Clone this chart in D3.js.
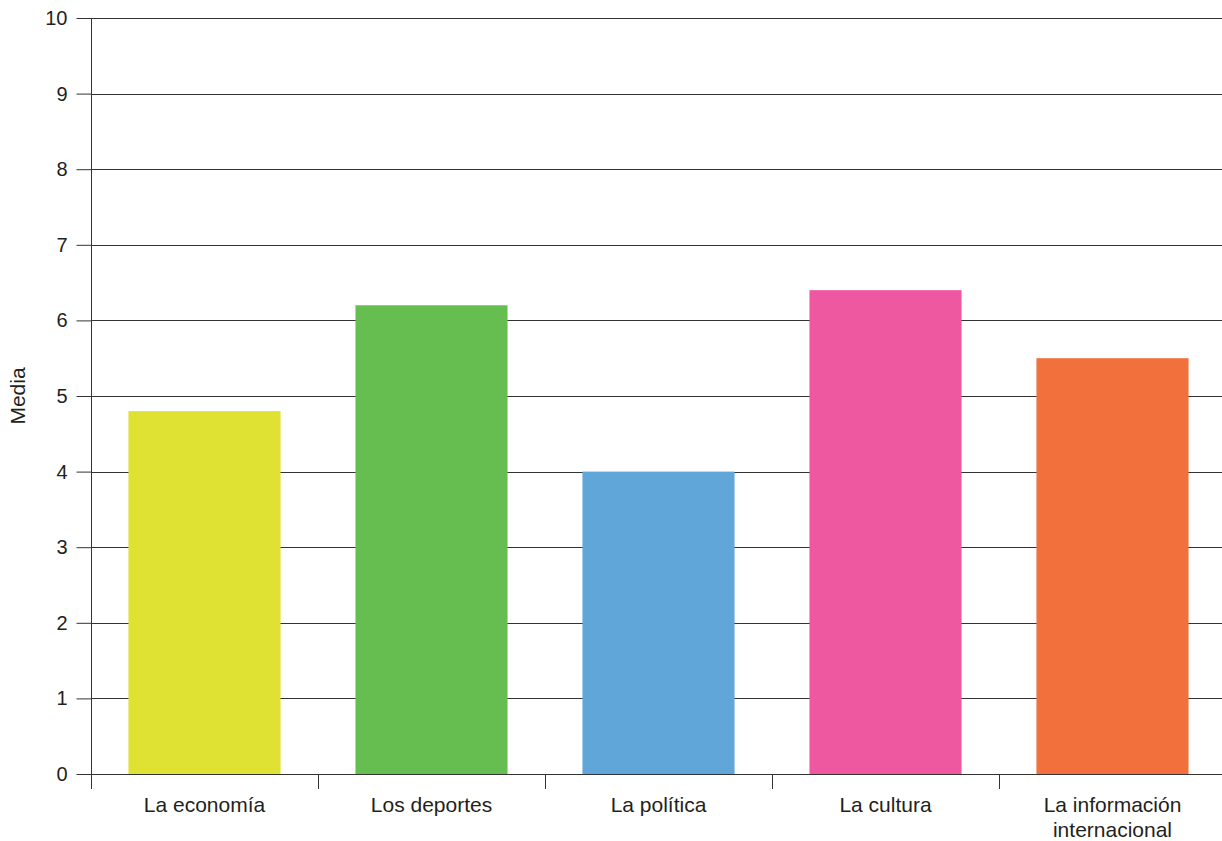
<!DOCTYPE html>
<html><head><meta charset="utf-8">
<script src="https://cdn.jsdelivr.net/npm/d3@7"></script>
<style>body{margin:0;background:#fff}svg{display:block}text{font-family:"Liberation Sans",Arial,sans-serif;fill:#231f20}</style>
</head><body>
<svg id="c" width="1222" height="841"></svg>
<script>
const categories = ["La economía", "Los deportes", "La política", "La cultura", "La información internacional"];
const values = [4.8, 6.2, 4.0, 6.4, 5.5];
const colors = ["#dfe233", "#66bd50", "#61a6d9", "#ee58a0", "#f2703c"];
const yTicks = [0,1,2,3,4,5,6,7,8,9,10];
const yLabel = "Media";

const svg = d3.select("#c");
const m = {left: 91, right: 0, top: 18, bottom: 67};
const W = 1222, H = 841;
const x = d3.scaleBand().domain(categories).range([m.left, m.left + 227*5]).paddingInner(0.33).paddingOuter(0.165);
const xb = d3.scaleBand().domain(categories).range([m.left, m.left + 227*5]);
const y = d3.scaleLinear().domain([0,10]).range([H - m.bottom, m.top]);
const stroke = "#333";

// gridlines
svg.append("g").selectAll("line").data(yTicks.filter(d=>d>0)).join("line")
  .attr("x1", m.left).attr("x2", W).attr("y1", d=>Math.round(y(d))+0.5).attr("y2", d=>Math.round(y(d))+0.5)
  .attr("stroke", stroke).attr("stroke-width", 1);

// bars
svg.append("g").selectAll("rect").data(categories).join("rect")
  .attr("x", d=>x(d)).attr("width", x.bandwidth())
  .attr("y", (d,i)=>y(values[i])).attr("height", (d,i)=>y(0)-y(values[i]))
  .attr("fill", (d,i)=>colors[i]);

// y axis
const ya = svg.append("g").attr("transform", `translate(${m.left+0.5},0)`)
  .call(d3.axisLeft(y).tickValues(yTicks).tickSize(15).tickPadding(9).tickSizeOuter(0));
ya.select(".domain").remove();
ya.selectAll("line").attr("stroke", stroke);
ya.selectAll("text").attr("font-size", 20).style("font-family", '"Liberation Sans",Arial,sans-serif').attr("fill", "#231f20");
svg.append("line").attr("x1", m.left+0.5).attr("x2", m.left+0.5).attr("y1", m.top).attr("y2", y(0)+15).attr("stroke", stroke);

// x axis baseline
svg.append("line").attr("x1", m.left).attr("x2", W).attr("y1", y(0)+0.5).attr("y2", y(0)+0.5).attr("stroke", stroke);
// category separators
svg.append("g").selectAll("line").data(categories.slice(1)).join("line")
  .attr("x1", d=>Math.round(xb(d))+0.5).attr("x2", d=>Math.round(xb(d))+0.5)
  .attr("y1", y(0)).attr("y2", y(0)+15).attr("stroke", stroke);

// category labels
const wrap = {"La información internacional": ["La información", "internacional"]};
svg.append("g").selectAll("text").data(categories).join("text")
  .attr("x", d=>xb(d)+xb.bandwidth()/2).attr("y", y(0)+38)
  .attr("text-anchor", "middle").attr("font-size", 21)
  .each(function(d){
    const lines = wrap[d] || [d];
    d3.select(this).selectAll("tspan").data(lines).join("tspan")
      .attr("x", xb(d)+xb.bandwidth()/2).attr("dy", (l,i)=> i? 25 : 0).text(l=>l);
  });

// y label
svg.append("text").attr("transform", `translate(25,${(y(0)+y(10))/2}) rotate(-90)`)
  .attr("text-anchor", "middle").attr("font-size", 21).text(yLabel);
</script>
</body></html>
